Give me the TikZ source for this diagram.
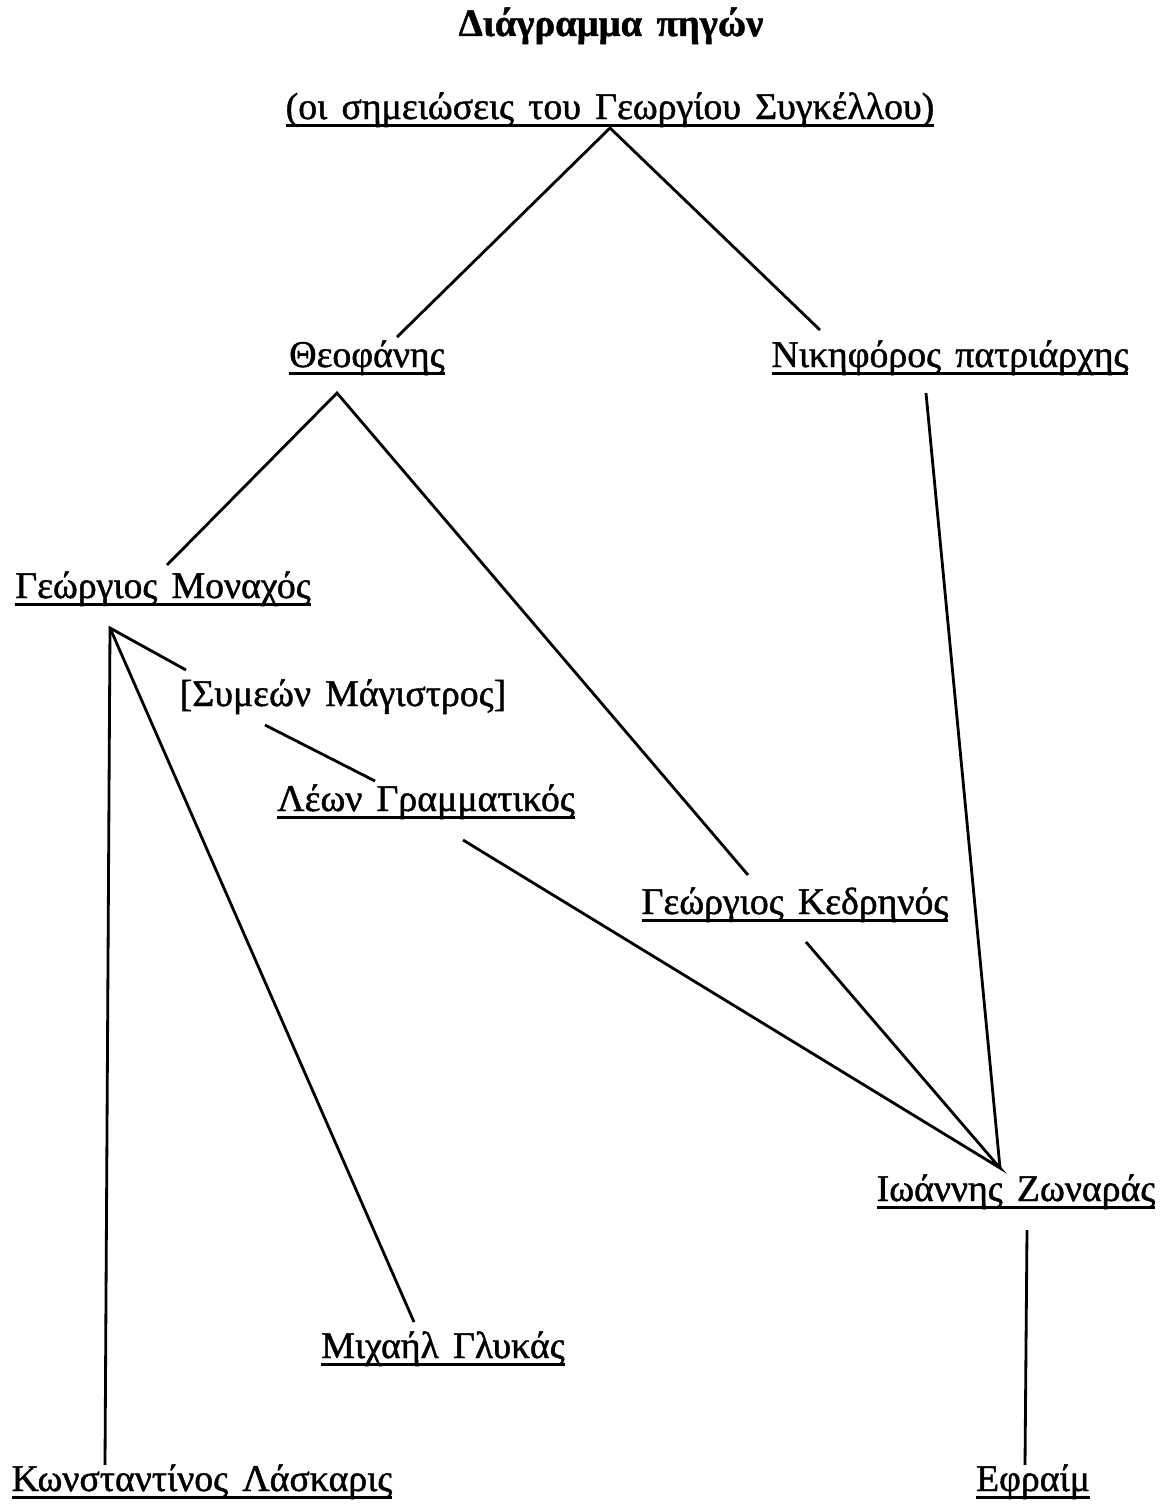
\documentclass[tikz,border=0pt]{standalone}
\usepackage{fontspec}
\setmainfont[WordSpace=1.5, FakeBold=1.2]{Liberation Serif}
\usepackage{tikz}
\newcommand\srcline[1]{\setbox0\hbox{#1}\rlap{\rule[-0.22em]{\wd0}{0.1em}}\box0}
\tikzset{src/.style={anchor=base, inner sep=0pt, font=\fontsize{21.5}{25}\selectfont},
  link/.style={line width=1.6pt}}

\begin{document}
\begin{tikzpicture}[x=0.02cm, y=-0.02cm]
	\useasboundingbox (0,0) rectangle (1163,1504);
	\node[src, font=\fontsize{22}{26}\selectfont\bfseries] (title) at (611,36) {Διάγραμμα πηγών};
	
	\node[src] (sync) at (610,119) {\srcline{(οι σημειώσεις του Γεωργίου Συγκέλλου)}};
	\node[src] (theo) at (367,367) {\srcline{Θεοφάνης}};
	\node[src] (nik) at (950,367) {\srcline{Νικηφόρος πατριάρχης}};
	\node[src] (gmon) at (163,598) {\srcline{Γεώργιος Μοναχός}};
	\node[src] (sym) at (343,706) {[Συμεών Μάγιστρος]};
	\node[src] (leon) at (426,811) {\srcline{Λέων Γραμματικός}};
	\node[src] (ked) at (795,914) {\srcline{Γεώργιος Κεδρηνός}};
	\node[src] (zon) at (1016,1201) {\srcline{Ιωάννης Ζωναράς}};
	\node[src] (glyk) at (443,1358) {\srcline{Μιχαήλ Γλυκάς}};
	\node[src] (lask) at (202,1491) {\srcline{Κωνσταντίνος Λάσκαρις}};
	\node[src] (efr) at (1033,1491) {\srcline{Εφραίμ}};
	
	% ends of the connectors
	\coordinate (sync-b) at (610,128);
	\coordinate (theo-t) at (397,337);
	\coordinate (theo-b) at (337,393);
	\coordinate (nik-t) at (820,330);
	\coordinate (nik-b) at (926,393);
	\coordinate (gmon-t) at (167,565);
	\coordinate (gmon-b) at (110,628);
	\coordinate (sym-t) at (186,670);
	\coordinate (sym-b) at (265,725);
	\coordinate (leon-t) at (375,781);
	\coordinate (leon-b) at (463,840);
	\coordinate (ked-t) at (748,875);
	\coordinate (ked-b) at (806,942);
	\coordinate (zon-t) at (1000,1168);
	\coordinate (zon-b) at (1027,1230);
	\coordinate (glyk-t) at (414,1322);
	\coordinate (lask-t) at (105,1465);
	\coordinate (efr-t) at (1025,1465);
	
	\draw[link] (theo-t) -- (sync-b) -- (nik-t);
	\draw[link] (gmon-t) -- (theo-b) -- (ked-t);
	\draw[link] (nik-b) -- (zon-t);
	\draw[link] (sym-t) -- (gmon-b) -- (lask-t);
	\draw[link] (gmon-b) -- (glyk-t);
	\draw[link] (sym-b) -- (leon-t);
	\draw[link] (leon-b) -- (zon-t) -- (ked-b);
	\draw[link] (zon-b) -- (efr-t);
\end{tikzpicture}
\end{document}
